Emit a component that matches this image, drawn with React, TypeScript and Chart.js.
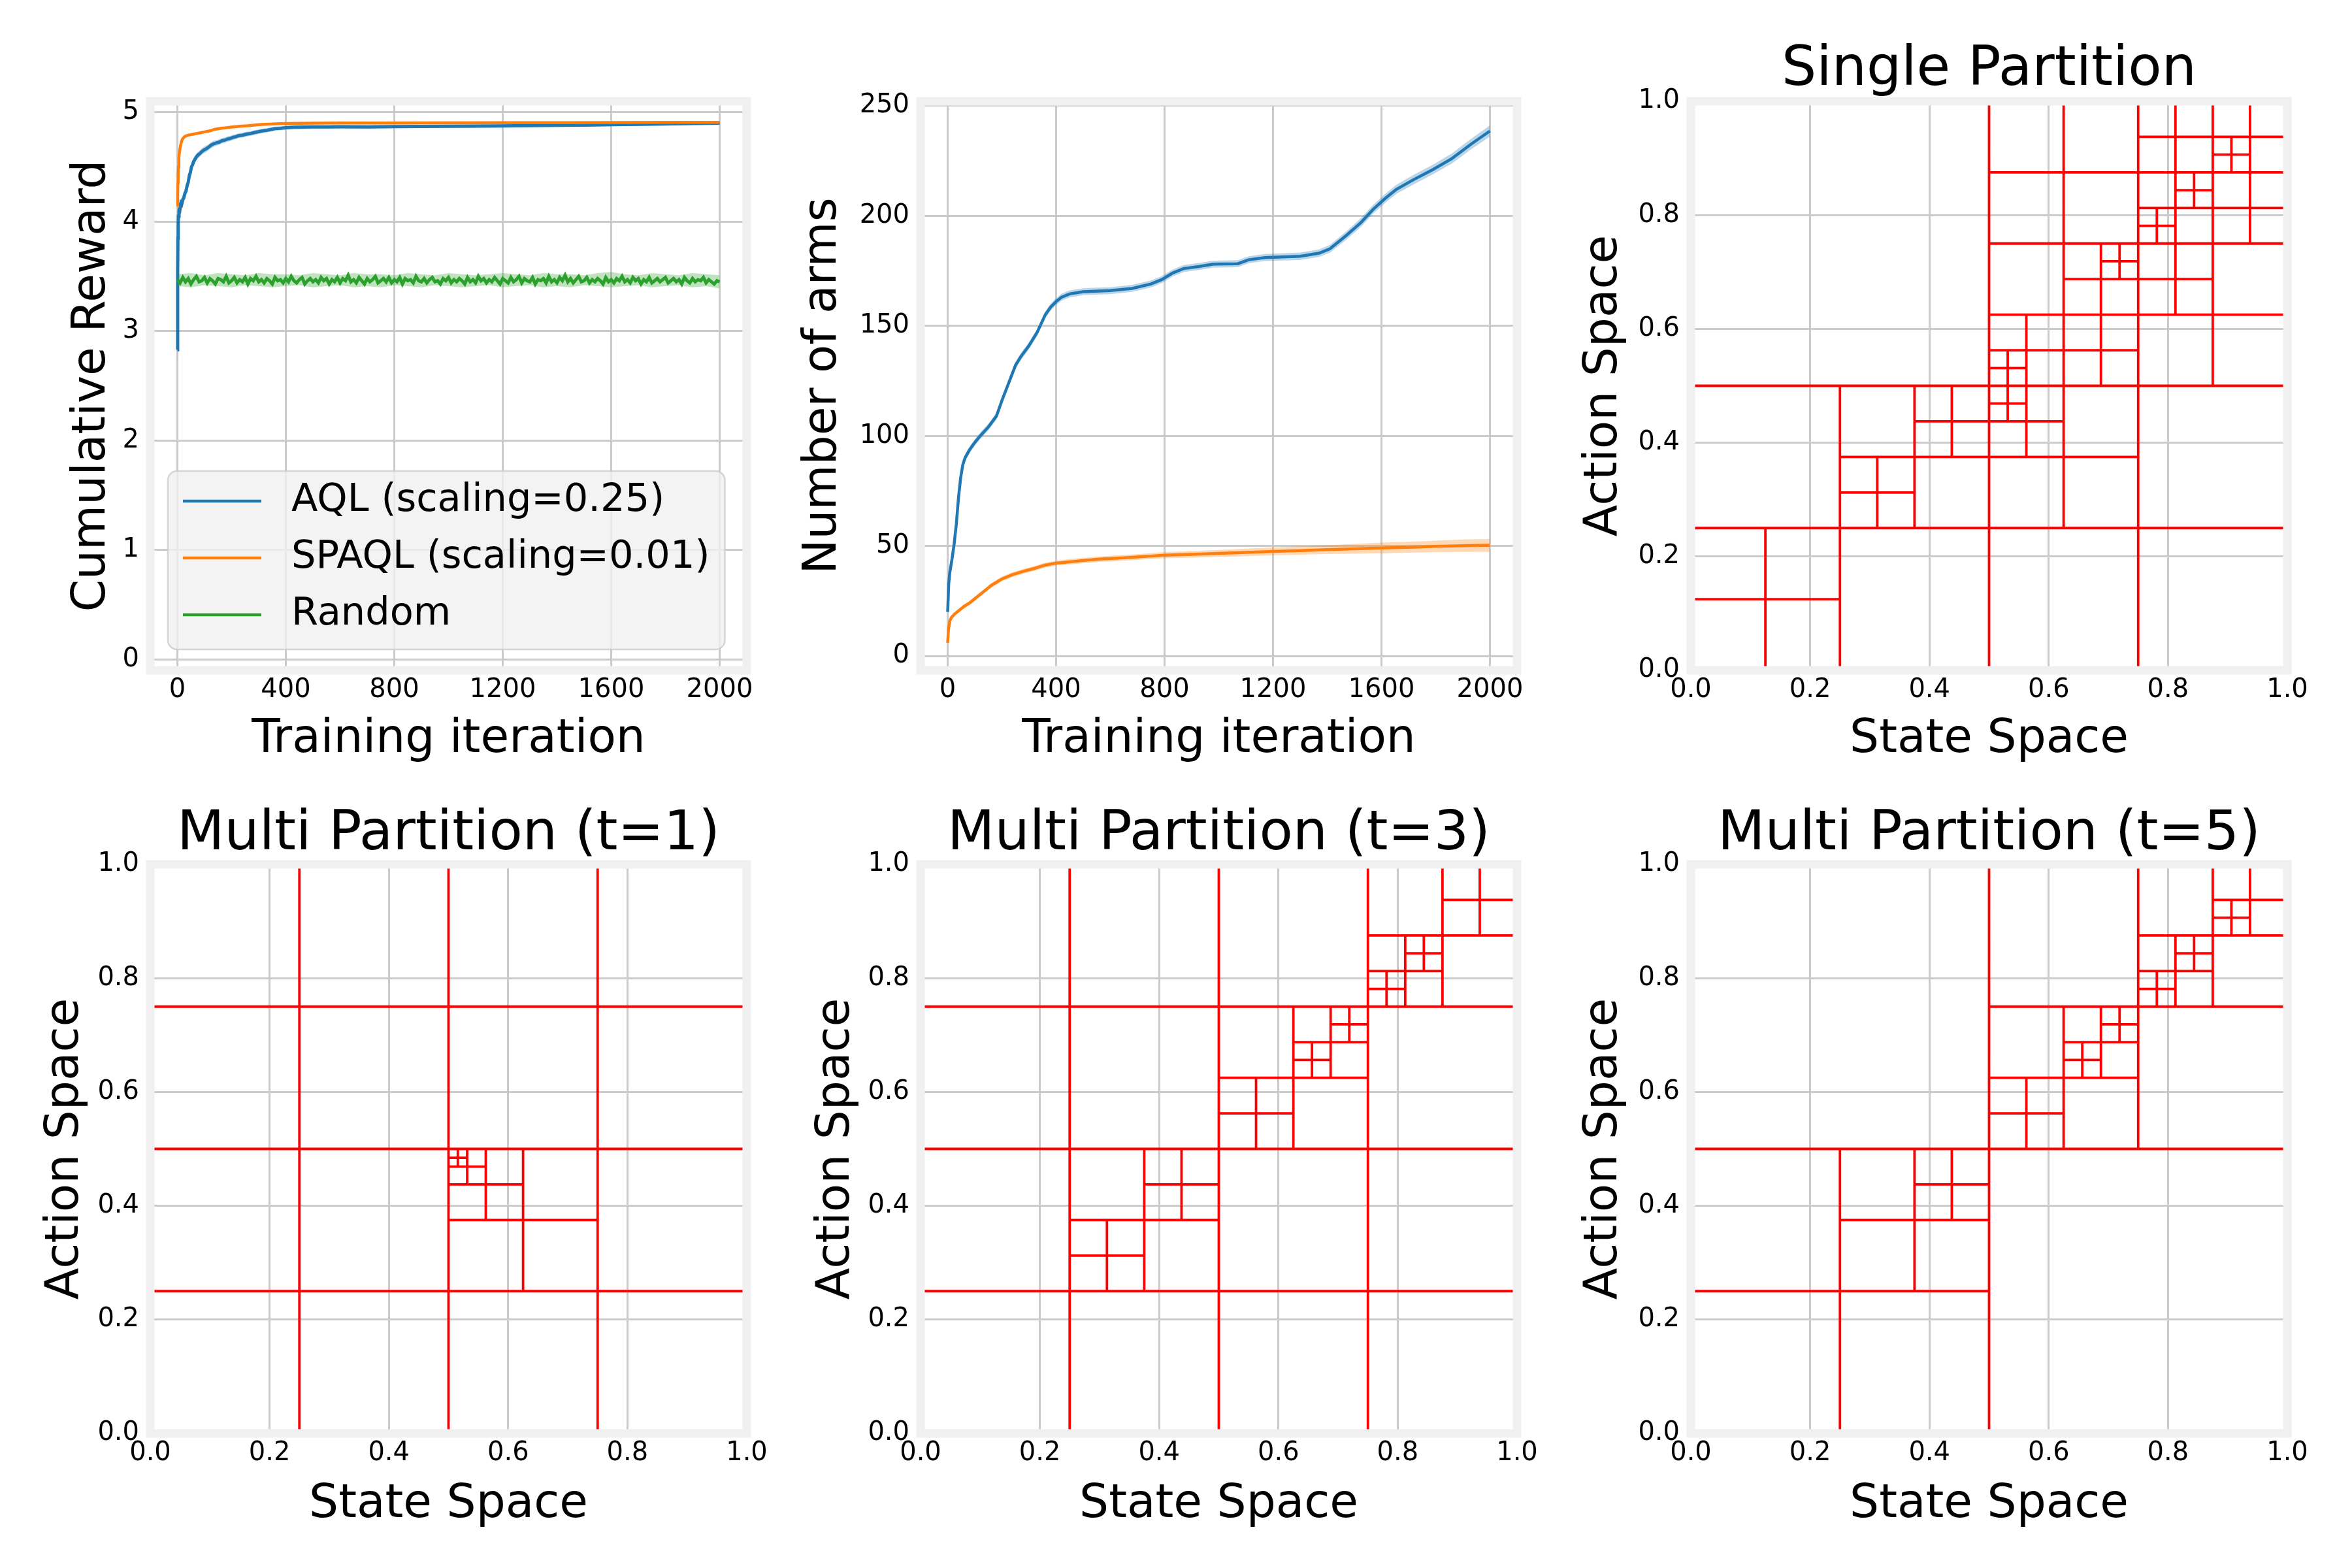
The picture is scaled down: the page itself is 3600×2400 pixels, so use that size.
import React, { useEffect, useRef } from "react";
import { Chart, registerables } from "chart.js";

Chart.register(...registerables);

// ---------------- data ----------------
const iterTicks = [0, 400, 800, 1200, 1600, 2000];
const iterTickLabels = ["0", "400", "800", "1200", "1600", "2000"];
const rewardTicks = [0, 1, 2, 3, 4, 5];
const rewardTickLabels = ["0", "1", "2", "3", "4", "5"];
const armsTicks = [0, 50, 100, 150, 200, 250];
const armsTickLabels = ["0", "50", "100", "150", "200", "250"];
const unitTicks = [0, 0.2, 0.4, 0.6, 0.8, 1.0];
const unitTickLabels = ["0.0", "0.2", "0.4", "0.6", "0.8", "1.0"];

const seriesLabels = ["AQL (scaling=0.25)", "SPAQL (scaling=0.01)", "Random"];

// Cumulative reward, AQL
const aqlIter = [0, 1, 2, 3, 4, 6, 8, 10,
  13, 16, 20, 24, 28, 32, 36, 40, 44, 48, 52, 56, 60,
  65, 70, 76, 82, 90, 98, 106, 115, 125, 135, 145, 155, 165, 175, 185, 195, 205, 215, 225,
  240, 255, 270, 285, 300, 315, 330, 345, 360, 380, 400,
  430, 460, 500, 550, 600,
  700, 800, 900, 1000, 1100, 1200, 1300, 1400, 1500, 1600, 1700, 1800, 1900, 2000];
const aqlReward = [2.83, 3.55, 3.85, 3.97, 4.05, 4.1, 4.13, 4.12,
  4.17, 4.16, 4.2, 4.22, 4.26, 4.28, 4.33, 4.36, 4.42, 4.45, 4.5, 4.52, 4.55,
  4.57, 4.59, 4.61, 4.62, 4.64, 4.655, 4.665, 4.68, 4.7, 4.712, 4.72, 4.728, 4.74, 4.745, 4.755, 4.76, 4.77, 4.775, 4.785,
  4.79, 4.8, 4.805, 4.815, 4.822, 4.83, 4.835, 4.842, 4.85, 4.853, 4.858,
  4.862, 4.864, 4.866, 4.865, 4.867,
  4.866, 4.868, 4.87, 4.872, 4.873, 4.875, 4.877, 4.88, 4.882, 4.886, 4.889, 4.893, 4.897, 4.9];
const aqlRewardStd = [0.1, 0.08, 0.07, 0.06, 0.05, 0.05, 0.05, 0.05,
  0.05, 0.05, 0.045, 0.045, 0.045, 0.04, 0.04, 0.04, 0.04, 0.04, 0.035, 0.035, 0.035,
  0.035, 0.03, 0.03, 0.03, 0.03, 0.03, 0.03, 0.028, 0.028, 0.028, 0.026, 0.026, 0.025, 0.025, 0.025, 0.024, 0.024, 0.023, 0.023,
  0.022, 0.022, 0.021, 0.021, 0.02, 0.02, 0.02, 0.019, 0.019, 0.018, 0.018,
  0.017, 0.017, 0.016, 0.016, 0.016,
  0.015, 0.015, 0.015, 0.015, 0.015, 0.015, 0.014, 0.014, 0.014, 0.014, 0.014, 0.014, 0.014, 0.014];

// Cumulative reward, SPAQL
const spaqlIter = [0, 1, 2, 3, 4, 5, 6, 8, 10, 12, 15, 18, 22, 26, 30, 40, 50, 60, 70, 85, 100,
  120, 140, 160, 180, 200, 230, 260, 300, 350, 400, 450, 500, 600,
  800, 1000, 1200, 1400, 1600, 1800, 2000];
const spaqlReward = [4.14, 4.25, 4.36, 4.44, 4.5, 4.55, 4.59, 4.64, 4.67, 4.7, 4.73, 4.75, 4.765, 4.775, 4.782, 4.79, 4.796, 4.8, 4.805, 4.812, 4.82,
  4.83, 4.845, 4.852, 4.858, 4.864, 4.871, 4.876, 4.886, 4.892, 4.897, 4.899, 4.9, 4.901,
  4.902, 4.903, 4.904, 4.905, 4.906, 4.907, 4.908];

// Cumulative reward, Random (one value every randomStep iterations)
const randomStep = 10;
const randomReward = [
  3.47, 3.44, 3.49, 3.45, 3.48, 3.43, 3.47, 3.50, 3.45, 3.46, 3.49, 3.44, 3.48, 3.46, 3.43, 3.48, 3.47, 3.45, 3.50, 3.44,
  3.46, 3.49, 3.44, 3.47, 3.45, 3.49, 3.43, 3.48, 3.46, 3.50, 3.45, 3.47, 3.44, 3.48, 3.46, 3.43, 3.49, 3.46, 3.47, 3.44,
  3.48, 3.45, 3.50, 3.46, 3.44, 3.47, 3.49, 3.43, 3.46, 3.48, 3.45, 3.47, 3.44, 3.49, 3.46, 3.48, 3.43, 3.47, 3.45, 3.49,
  3.44, 3.48, 3.46, 3.51, 3.45, 3.47, 3.44, 3.49, 3.46, 3.43, 3.48, 3.45, 3.47, 3.50, 3.44, 3.46, 3.48, 3.45, 3.49, 3.44,
  3.47, 3.45, 3.49, 3.43, 3.48, 3.46, 3.47, 3.44, 3.50, 3.46, 3.45, 3.48, 3.44, 3.47, 3.49, 3.45, 3.46, 3.43, 3.48, 3.46,
  3.49, 3.44, 3.47, 3.45, 3.48, 3.46, 3.43, 3.49, 3.45, 3.47, 3.44, 3.50, 3.46, 3.48, 3.44, 3.47, 3.45, 3.49, 3.46, 3.43,
  3.48, 3.46, 3.44, 3.49, 3.45, 3.47, 3.50, 3.44, 3.48, 3.46, 3.45, 3.49, 3.43, 3.47, 3.46, 3.48, 3.44, 3.50, 3.45, 3.47,
  3.44, 3.49, 3.46, 3.51, 3.45, 3.48, 3.44, 3.47, 3.50, 3.45, 3.46, 3.49, 3.44, 3.47, 3.45, 3.48, 3.46, 3.43, 3.49, 3.45,
  3.47, 3.44, 3.48, 3.46, 3.50, 3.45, 3.47, 3.44, 3.49, 3.46, 3.48, 3.43, 3.47, 3.45, 3.49, 3.44, 3.46, 3.48, 3.45, 3.47,
  3.49, 3.44, 3.46, 3.48, 3.45, 3.47, 3.43, 3.49, 3.46, 3.44, 3.48, 3.45, 3.47, 3.46, 3.49, 3.44, 3.47, 3.45, 3.43, 3.46,
  3.45];
const randomBandStep = 50;
const randomUpper = [3.52, 3.53, 3.51, 3.53, 3.52, 3.51, 3.53, 3.52, 3.52, 3.51, 3.53, 3.52, 3.51, 3.53, 3.52, 3.52, 3.51, 3.53, 3.52, 3.51,
  3.53, 3.52, 3.51, 3.52, 3.53, 3.52, 3.51, 3.53, 3.52, 3.52, 3.51, 3.53, 3.54, 3.52, 3.51, 3.53, 3.52, 3.51, 3.53, 3.52, 3.51];
const randomLower = [3.41, 3.40, 3.42, 3.41, 3.40, 3.42, 3.41, 3.40, 3.41, 3.42, 3.40, 3.41, 3.42, 3.40, 3.41, 3.40, 3.42, 3.41, 3.40, 3.42,
  3.41, 3.40, 3.41, 3.42, 3.40, 3.41, 3.42, 3.40, 3.41, 3.40, 3.42, 3.41, 3.40, 3.41, 3.42, 3.40, 3.41, 3.42, 3.40, 3.41, 3.39];

// Number of arms, AQL
const armsAqlIter = [0, 4, 8, 16, 24, 32, 40, 48, 56, 64,
  80, 100, 120, 150, 180, 200, 225, 250, 270, 300,
  330, 360, 380, 400, 420, 450, 500, 600, 680, 750,
  790, 830, 870, 930, 980, 1070, 1110, 1170, 1300, 1370,
  1410, 1470, 1525, 1570, 1615, 1655, 1720, 1790, 1860, 1930, 2000];
const armsAql = [20, 33, 38, 44, 51, 60, 72, 81, 87, 90,
  93.5, 97, 100, 104, 109, 116, 124, 132, 136, 141,
  147, 155, 158.5, 161, 163, 164.5, 165.5, 166, 167, 169,
  171, 174, 176, 177, 178, 178.2, 180, 181, 181.6, 183,
  185, 191, 197, 203, 208, 212, 216.5, 221, 226, 232.5, 238.5];
const armsAqlStd = [0.5, 1, 1, 1.2, 1.3, 1.4, 1.5, 1.5, 1.5, 1.5,
  1.5, 1.5, 1.5, 1.5, 1.6, 1.6, 1.6, 1.6, 1.6, 1.6,
  1.6, 1.6, 1.6, 1.6, 1.6, 1.6, 1.6, 1.6, 1.6, 1.6,
  1.6, 1.6, 1.6, 1.6, 1.6, 1.6, 1.6, 1.6, 1.7, 1.7,
  1.8, 1.9, 2, 2, 2.1, 2.1, 2.2, 2.2, 2.3, 2.4, 2.5];

// Number of arms, SPAQL
const armsSpaqlIter = [0, 3, 8, 14, 25, 40, 60, 80, 100, 120,
  140, 160, 180, 200, 240, 280, 320, 360, 400, 450,
  500, 560, 650, 750, 800, 900, 1000, 1100, 1200, 1300,
  1400, 1500, 1600, 1700, 1800, 1900, 2000];
const armsSpaql = [6, 12, 16, 17.5, 19, 20.5, 22.5, 24, 26, 28,
  30, 32, 33.5, 35, 37, 38.5, 39.8, 41.3, 42.2, 42.8,
  43.4, 44, 44.6, 45.4, 45.8, 46.2, 46.6, 47.1, 47.5, 47.9,
  48.3, 48.7, 49.1, 49.4, 49.8, 50.1, 50.3];
const armsSpaqlStd = [0.5, 0.7, 0.8, 0.8, 0.9, 0.9, 1, 1, 1, 1,
  1, 1.1, 1.1, 1.1, 1.1, 1.1, 1.1, 1.1, 1.1, 1.2,
  1.2, 1.2, 1.3, 1.3, 1.4, 1.5, 1.6, 1.7, 1.8, 1.9,
  2, 2.2, 2.4, 2.5, 2.6, 2.8, 2.9];

// Partitions: every box that was split into four, as [x0, y0, size]
const singlePartitionSplits = [
  [0, 0, 1],
  [0, 0, 0.5], [0, 0, 0.25], [0.25, 0.25, 0.25], [0.25, 0.25, 0.125], [0.375, 0.375, 0.125],
  [0.5, 0, 0.5], [0.5, 0.25, 0.25], [0.5, 0.375, 0.125], [0.5, 0.4375, 0.0625],
  [0.5, 0.5, 0.5], [0.5, 0.5, 0.25], [0.5, 0.5, 0.125], [0.5, 0.5, 0.0625],
  [0.625, 0.5, 0.125], [0.625, 0.625, 0.125], [0.6875, 0.6875, 0.0625],
  [0.75, 0.5, 0.25], [0.75, 0.625, 0.125],
  [0.5, 0.75, 0.25],
  [0.75, 0.75, 0.25], [0.75, 0.75, 0.125], [0.75, 0.75, 0.0625], [0.8125, 0.8125, 0.0625],
  [0.875, 0.75, 0.125], [0.75, 0.875, 0.125], [0.875, 0.875, 0.125], [0.875, 0.875, 0.0625],
];
const multiPartitionT1Splits = [
  [0, 0, 1],
  [0, 0, 0.5], [0.5, 0, 0.5], [0, 0.5, 0.5], [0.5, 0.5, 0.5],
  [0.5, 0.25, 0.25], [0.5, 0.375, 0.125], [0.5, 0.4375, 0.0625], [0.5, 0.46875, 0.03125],
];
const multiPartitionT3Splits = [
  [0, 0, 1],
  [0, 0, 0.5], [0.5, 0, 0.5], [0, 0.5, 0.5], [0.5, 0.5, 0.5],
  [0.25, 0.25, 0.25], [0.25, 0.25, 0.125], [0.375, 0.375, 0.125],
  [0.5, 0.5, 0.25], [0.5, 0.5, 0.125], [0.625, 0.625, 0.125], [0.625, 0.625, 0.0625], [0.6875, 0.6875, 0.0625],
  [0.75, 0.75, 0.25], [0.75, 0.75, 0.125], [0.75, 0.75, 0.0625], [0.8125, 0.8125, 0.0625], [0.875, 0.875, 0.125],
];
const multiPartitionT5Splits = [
  [0, 0, 1],
  [0, 0, 0.5], [0.5, 0.5, 0.5],
  [0.25, 0.25, 0.25], [0.375, 0.375, 0.125],
  [0.5, 0.5, 0.25], [0.5, 0.5, 0.125], [0.625, 0.625, 0.125], [0.625, 0.625, 0.0625], [0.6875, 0.6875, 0.0625],
  [0.75, 0.75, 0.25], [0.75, 0.75, 0.125], [0.75, 0.75, 0.0625], [0.8125, 0.8125, 0.0625],
  [0.875, 0.875, 0.125], [0.875, 0.875, 0.0625],
];

// ---------------- styles ----------------
const FONT = "'DejaVu Sans', 'Liberation Sans', sans-serif";
const BLUE = "#1f77b4";
const ORANGE = "#ff7f0e";
const GREEN = "#2ca02c";
const RED = "#ff0000";
const BLUE_BAND = "rgba(31,119,180,0.3)";
const ORANGE_BAND = "rgba(255,127,14,0.3)";
const GREEN_BAND = "rgba(44,160,44,0.3)";
const GRID = "#cbcbcb";
const FRAME = "#f0f0f0";

const AXW = 913;
const AXH = 871;
const TICK_SIZE = 40;
const AXIS_TITLE_SIZE = 71;
const TITLE_SIZE = 84;
const LEGEND_SIZE = 59;
const RIGHT_PAD = 60;
const CURVE_W = 4.5;
const PART_W = 3.8;

// ---------------- helpers ----------------
function pts(xs: number[], ys: number[]) {
  return xs.map((x, i) => ({ x, y: ys[i] }));
}
function stepPts(step: number, ys: number[]) {
  return ys.map((y, i) => ({ x: i * step, y }));
}
function offsetPts(xs: number[], ys: number[], sd: number[], sign: number) {
  return xs.map((x, i) => ({ x, y: ys[i] + sign * sd[i] }));
}
function partitionPts(splits: number[][]) {
  const out: any[] = [];
  for (const [x0, y0, s] of splits) {
    const cx = x0 + s / 2;
    const cy = y0 + s / 2;
    out.push({ x: cx, y: y0 }, { x: cx, y: y0 + s }, { x: cx, y: null });
    out.push({ x: x0, y: cy }, { x: x0 + s, y: cy }, { x: x0 + s, y: null });
  }
  return out;
}
function lineDs(data: any[], color: string, extra: any = {}) {
  return {
    data, borderColor: color, borderWidth: CURVE_W, pointRadius: 0, tension: 0,
    fill: false, spanGaps: false, ...extra,
  };
}
function bandPair(upper: any[], lower: any[], color: string, order: number) {
  return [
    { data: upper, borderWidth: 0, borderColor: "rgba(0,0,0,0)", pointRadius: 0, fill: false, order },
    { data: lower, borderWidth: 0, borderColor: "rgba(0,0,0,0)", pointRadius: 0, fill: "-1", backgroundColor: color, order },
  ];
}

// ---------------- plugins ----------------
const framePlugin = {
  id: "axesFrame",
  afterDatasetsDraw(chart: any) {
    const { ctx, chartArea } = chart;
    const { left, top, right, bottom } = chartArea;
    ctx.save();
    ctx.strokeStyle = FRAME;
    ctx.lineWidth = 13;
    ctx.lineJoin = "miter";
    ctx.strokeRect(left, top, right - left, bottom - top);
    ctx.restore();
  },
};

const insetLegendPlugin = {
  id: "insetLegend",
  afterDatasetsDraw(chart: any, _args: any, opts: any) {
    if (!opts || !opts.display) return;
    const { ctx, chartArea } = chart;
    const items = chart.data.datasets.filter((d: any) => d.inLegend);
    const font = `${LEGEND_SIZE}px ${FONT}`;
    ctx.save();
    ctx.font = font;
    let maxW = 0;
    for (const it of items) maxW = Math.max(maxW, ctx.measureText(it.label).width);
    const pad = 23;
    const handleStart = 23;
    const handleLen = 120;
    const textGap = 46;
    const rowH = 87;
    const boxLeft = chartArea.left + 27;
    const boxBottom = chartArea.bottom - 32;
    const boxH = rowH * items.length + 12;
    const boxTop = boxBottom - boxH;
    const boxW = handleStart + handleLen + textGap + maxW + pad;
    ctx.beginPath();
    if (ctx.roundRect) ctx.roundRect(boxLeft, boxTop, boxW, boxH, 14);
    else ctx.rect(boxLeft, boxTop, boxW, boxH);
    ctx.fillStyle = "rgba(240,240,240,0.8)";
    ctx.fill();
    ctx.lineWidth = 2.5;
    ctx.strokeStyle = "rgba(204,204,204,0.8)";
    ctx.stroke();
    items.forEach((it: any, i: number) => {
      const cy = boxTop + 46 + i * rowH;
      ctx.beginPath();
      ctx.moveTo(boxLeft + handleStart, cy);
      ctx.lineTo(boxLeft + handleStart + handleLen, cy);
      ctx.strokeStyle = it.borderColor;
      ctx.lineWidth = CURVE_W;
      ctx.stroke();
      ctx.fillStyle = "#000";
      ctx.textAlign = "left";
      ctx.textBaseline = "middle";
      ctx.fillText(it.label, boxLeft + handleStart + handleLen + textGap, cy);
    });
    ctx.restore();
  },
};

// ---------------- panels ----------------
type PanelSpec = {
  axLeft: number; axTop: number; yTitleX: number; xTitleY: number; titleY?: number; title?: string;
  xTitle: string; yTitle: string;
  xMin: number; xMax: number; yMin: number; yMax: number;
  xTicks: number[]; xLabels: string[]; yTicks: number[]; yLabels: string[];
  datasets: any[]; legend?: boolean;
};

const partitionAxes = {
  xTitle: "State Space", yTitle: "Action Space",
  xMin: 0, xMax: 1, yMin: 0, yMax: 1,
  xTicks: unitTicks, xLabels: unitTickLabels, yTicks: unitTicks, yLabels: unitTickLabels,
};

function partitionDatasets(splits: number[][]) {
  return [lineDs(partitionPts(splits), RED, { borderWidth: PART_W })];
}

const PANELS: PanelSpec[] = [
  {
    axLeft: 230, axTop: 155, yTitleX: 141, xTitleY: 1132,
    xTitle: "Training iteration", yTitle: "Cumulative Reward",
    xMin: -100, xMax: 2100, yMin: -0.1, yMax: 5.1,
    xTicks: iterTicks, xLabels: iterTickLabels, yTicks: rewardTicks, yLabels: rewardTickLabels,
    legend: true,
    datasets: [
      lineDs(pts(aqlIter, aqlReward), BLUE, { label: seriesLabels[0], inLegend: true, order: 5, borderWidth: 5 }),
      lineDs(pts(spaqlIter, spaqlReward), ORANGE, { label: seriesLabels[1], inLegend: true, order: 3 }),
      lineDs(stepPts(randomStep, randomReward), GREEN, { label: seriesLabels[2], inLegend: true, order: 1, borderWidth: 5 }),
      ...bandPair(offsetPts(aqlIter, aqlReward, aqlRewardStd, 1), offsetPts(aqlIter, aqlReward, aqlRewardStd, -1), BLUE_BAND, 6),
      ...bandPair(stepPts(randomBandStep, randomUpper), stepPts(randomBandStep, randomLower), GREEN_BAND, 2),
    ],
  },
  {
    axLeft: 1409, axTop: 155, yTitleX: 1260, xTitleY: 1132,
    xTitle: "Training iteration", yTitle: "Number of arms",
    xMin: -100, xMax: 2100, yMin: -6.5, yMax: 252,
    xTicks: iterTicks, xLabels: iterTickLabels, yTicks: armsTicks, yLabels: armsTickLabels,
    datasets: [
      lineDs(pts(armsAqlIter, armsAql), BLUE, { label: seriesLabels[0], order: 3 }),
      lineDs(pts(armsSpaqlIter, armsSpaql), ORANGE, { label: seriesLabels[1], order: 1 }),
      ...bandPair(offsetPts(armsAqlIter, armsAql, armsAqlStd, 1), offsetPts(armsAqlIter, armsAql, armsAqlStd, -1), BLUE_BAND, 4),
      ...bandPair(offsetPts(armsSpaqlIter, armsSpaql, armsSpaqlStd, 1), offsetPts(armsSpaqlIter, armsSpaql, armsSpaqlStd, -1), ORANGE_BAND, 2),
    ],
  },
  {
    axLeft: 2588, axTop: 155, yTitleX: 2455, xTitleY: 1132, titleY: 108, title: "Single Partition",
    ...partitionAxes, datasets: partitionDatasets(singlePartitionSplits),
  },
  {
    axLeft: 230, axTop: 1323, yTitleX: 100, xTitleY: 2303, titleY: 1278, title: "Multi Partition (t=1)",
    ...partitionAxes, datasets: partitionDatasets(multiPartitionT1Splits),
  },
  {
    axLeft: 1409, axTop: 1323, yTitleX: 1280, xTitleY: 2303, titleY: 1278, title: "Multi Partition (t=3)",
    ...partitionAxes, datasets: partitionDatasets(multiPartitionT3Splits),
  },
  {
    axLeft: 2588, axTop: 1323, yTitleX: 2455, xTitleY: 2303, titleY: 1278, title: "Multi Partition (t=5)",
    ...partitionAxes, datasets: partitionDatasets(multiPartitionT5Splits),
  },
];

function geometry(p: PanelSpec) {
  const left = Math.round(p.yTitleX - AXIS_TITLE_SIZE / 2);
  const top = p.title ? Math.round((p.titleY as number) - TITLE_SIZE / 2) : p.axTop - 45;
  const right = p.axLeft + AXW + RIGHT_PAD;
  const bottom = Math.round(p.xTitleY + AXIS_TITLE_SIZE / 2);
  return {
    left, top, width: right - left, height: bottom - top,
    yScaleW: p.axLeft - left,
    xScaleH: bottom - (p.axTop + AXH),
    padTop: p.title ? 0 : p.axTop - top,
    titlePadBottom: p.title ? p.axTop - top - TITLE_SIZE : 0,
  };
}

function buildConfig(p: PanelSpec, g: any): any {
  const tickFont = { family: FONT, size: TICK_SIZE, lineHeight: 1.2 };
  const titleFont = { family: FONT, size: AXIS_TITLE_SIZE, lineHeight: 1, weight: "normal" };
  return {
    type: "line",
    data: { datasets: p.datasets },
    options: {
      responsive: false,
      maintainAspectRatio: false,
      animation: false,
      devicePixelRatio: 1,
      events: [],
      layout: { padding: { left: 0, right: RIGHT_PAD, top: g.padTop, bottom: 0 } },
      plugins: {
        legend: { display: false },
        tooltip: { enabled: false },
        title: p.title
          ? {
              display: true, text: p.title, color: "#000", fullSize: false, align: "center",
              font: { family: FONT, size: TITLE_SIZE, weight: "normal", lineHeight: 1 },
              padding: { top: 0, bottom: g.titlePadBottom },
            }
          : { display: false },
        insetLegend: { display: !!p.legend },
      },
      scales: {
        x: {
          type: "linear", position: "bottom", min: p.xMin, max: p.xMax,
          afterBuildTicks: (s: any) => { s.ticks = p.xTicks.map((v) => ({ value: v })); },
          afterFit: (s: any) => { s.height = g.xScaleH; },
          ticks: {
            autoSkip: false, maxRotation: 0, minRotation: 0, padding: 7, color: "#000", font: tickFont,
            callback: (_v: any, i: number) => p.xLabels[i],
          },
          grid: { color: GRID, lineWidth: 3, drawTicks: false },
          border: { display: false },
          title: { display: true, text: p.xTitle, color: "#000", font: titleFont, padding: { top: 0, bottom: 0 } },
        },
        y: {
          type: "linear", position: "left", min: p.yMin, max: p.yMax,
          afterBuildTicks: (s: any) => { s.ticks = p.yTicks.map((v) => ({ value: v })); },
          afterFit: (s: any) => { s.width = g.yScaleW; },
          ticks: {
            autoSkip: false, padding: 17, color: "#000", font: tickFont,
            callback: (_v: any, i: number) => p.yLabels[i],
          },
          grid: { color: GRID, lineWidth: 3, drawTicks: false },
          border: { display: false },
          title: { display: true, text: p.yTitle, color: "#000", font: titleFont, padding: { top: 0, bottom: 0 } },
        },
      },
    },
    plugins: [framePlugin, insetLegendPlugin],
  };
}

function PanelCanvas({ spec }: { spec: PanelSpec }) {
  const ref = useRef<HTMLCanvasElement | null>(null);
  const g = geometry(spec);
  useEffect(() => {
    if (!ref.current) return;
    const chart = new Chart(ref.current, buildConfig(spec, g));
    return () => chart.destroy();
  }, []);
  return (
    <canvas
      ref={ref}
      width={g.width}
      height={g.height}
      style={{ position: "absolute", left: g.left, top: g.top, width: g.width, height: g.height }}
    />
  );
}

export default function App() {
  return (
    <div
      style={{
        position: "absolute", left: 0, top: 0, width: 3600, height: 2400,
        background: "#ffffff", overflow: "hidden",
      }}
    >
      {PANELS.map((p, i) => (
        <PanelCanvas key={i} spec={p} />
      ))}
    </div>
  );
}
